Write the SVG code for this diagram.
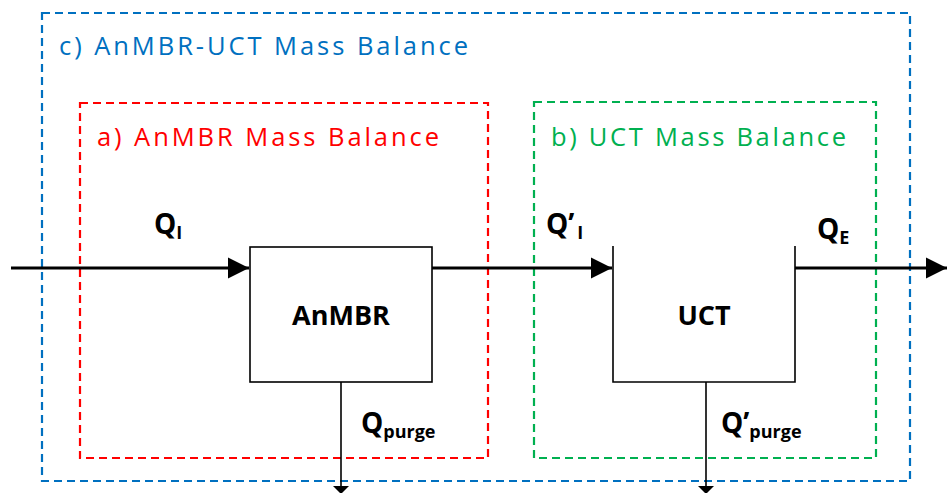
<svg xmlns="http://www.w3.org/2000/svg" width="948" height="493" viewBox="0 0 948 493">
<style>
.bnd{fill:none;stroke-width:2.2;stroke-dasharray:8 5}
.ttl{font-family:"Open Sans","Liberation Sans",sans-serif;font-size:25.5px}
.lbl{font-family:"Open Sans","Liberation Sans",sans-serif;font-weight:bold;fill:#000}
.box{fill:#fff;stroke:#000;stroke-width:1.6}
.flow{stroke:#000;stroke-width:3;fill:none}
.purge{stroke:#000;stroke-width:1.6;fill:none}
</style>
<defs>
<marker id="ah" markerWidth="8" markerHeight="8" refX="7" refY="4" orient="auto" markerUnits="strokeWidth">
<path d="M0,0.5 L7,4 L0,7.5 Z" fill="#000"/>
</marker>
</defs>
<g id="boundary-c">
<rect class="bnd" x="42" y="13" width="868" height="468" stroke="#0070C0"/>
<text class="ttl" x="59" y="55" fill="#0070C0" textLength="409" lengthAdjust="spacing">c) AnMBR-UCT Mass Balance</text>
</g>
<g id="boundary-a">
<rect class="bnd" x="80" y="103" width="408" height="355" stroke="#FF0000"/>
<text class="ttl" x="97" y="146" fill="#FF0000" textLength="342" lengthAdjust="spacing">a) AnMBR Mass Balance</text>
</g>
<g id="boundary-b">
<rect class="bnd" x="534" y="102" width="342" height="356" stroke="#00B050"/>
<text class="ttl" x="551" y="146" fill="#00B050" textLength="295" lengthAdjust="spacing">b) UCT Mass Balance</text>
</g>
<g id="connectors">
<line class="flow" x1="11" y1="268" x2="249" y2="268" marker-end="url(#ah)"/>
<line class="flow" x1="432" y1="268" x2="612" y2="268" marker-end="url(#ah)"/>
<line class="flow" x1="795" y1="268" x2="947" y2="268" marker-end="url(#ah)"/>
<line class="purge" x1="341" y1="382" x2="341" y2="486"/>
<path d="M333,486 L349,486 L341,494 Z" fill="#000"/>
<line class="purge" x1="706" y1="382" x2="706" y2="486"/>
<path d="M698,486 L714,486 L706,494 Z" fill="#000"/>
<text class="lbl" x="154" y="234" font-size="28">Q<tspan font-size="18" dy="5">I</tspan></text>
<text class="lbl" x="546" y="234" font-size="28">Q’<tspan font-size="18" dy="5" dx="3">I</tspan></text>
<text class="lbl" x="817" y="239" font-size="28">Q<tspan font-size="18" dy="5">E</tspan></text>
<text class="lbl" x="361" y="433" font-size="28">Q<tspan font-size="18" dy="5">purge</tspan></text>
<text class="lbl" x="721" y="433" font-size="28">Q’<tspan font-size="18" dy="5">purge</tspan></text>
</g>
<g id="anmbr">
<rect class="box" x="250" y="247" width="182" height="135"/>
<text class="lbl" x="341" y="325" font-size="27" text-anchor="middle">AnMBR</text>
</g>
<g id="uct">
<path class="purge" d="M613,246 V382 H795 V246"/>
<text class="lbl" x="704" y="325" font-size="27" text-anchor="middle">UCT</text>
</g>
</svg>
